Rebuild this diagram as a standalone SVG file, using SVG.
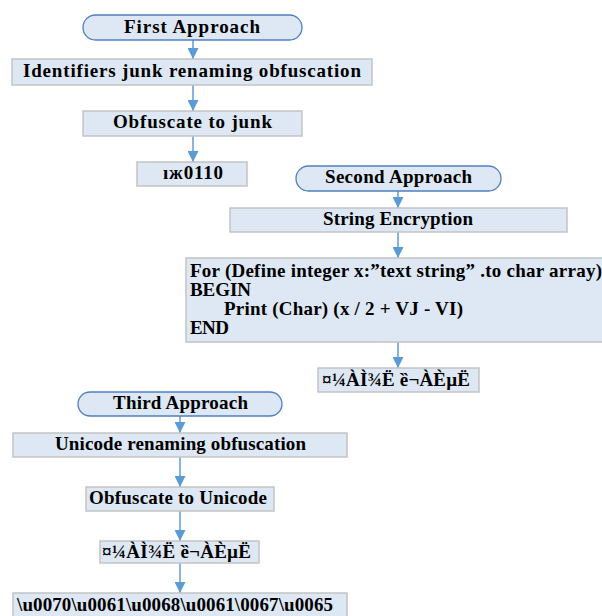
<svg xmlns="http://www.w3.org/2000/svg" width="602" height="616" viewBox="0 0 602 616">
<defs>
<style>
.box{fill:#dee8f4;stroke:#c3c3c3;stroke-width:1.5}
.pill{fill:#dee8f4;stroke:#4f7fbf;stroke-width:1.3}
.t{font-family:"Liberation Serif","Times New Roman",serif;font-weight:bold;font-size:19px;fill:#000}
.con{stroke:#5b9bd5;stroke-width:1.5;fill:none}
</style>
<marker id="ah" viewBox="0 0 10 10" refX="10" refY="5" markerWidth="11" markerHeight="11" markerUnits="userSpaceOnUse" orient="auto">
<path d="M0,0 L10,5 L0,10 z" fill="#5b9bd5"/>
</marker>
</defs>
<rect width="602" height="616" fill="#fff"/>
<g id="connectors">
<line class="con" x1="193" y1="40" x2="193" y2="59" marker-end="url(#ah)"/>
<line class="con" x1="193" y1="85" x2="193" y2="111" marker-end="url(#ah)"/>
<line class="con" x1="193" y1="136" x2="193" y2="162" marker-end="url(#ah)"/>
<line class="con" x1="398" y1="191" x2="398" y2="208" marker-end="url(#ah)"/>
<line class="con" x1="398" y1="232" x2="398" y2="258" marker-end="url(#ah)"/>
<line class="con" x1="398" y1="342" x2="398" y2="368" marker-end="url(#ah)"/>
<line class="con" x1="180" y1="416" x2="180" y2="433" marker-end="url(#ah)"/>
<line class="con" x1="180" y1="457" x2="180" y2="487" marker-end="url(#ah)"/>
<line class="con" x1="180" y1="511" x2="180" y2="541" marker-end="url(#ah)"/>
<line class="con" x1="180" y1="563" x2="180" y2="593" marker-end="url(#ah)"/>
</g>
<g id="first-approach">
<rect class="pill" x="83" y="15" width="219" height="25" rx="12.5"/>
<text class="t" x="124" y="33" textLength="136" lengthAdjust="spacing">First Approach</text>
</g>
<g id="identifiers-junk">
<rect class="box" x="12" y="59" width="360" height="26"/>
<text class="t" x="23" y="77" textLength="338" lengthAdjust="spacing">Identifiers junk renaming obfuscation</text>
</g>
<g id="obfuscate-junk">
<rect class="box" x="83" y="111" width="219" height="25"/>
<text class="t" x="113" y="128" textLength="159" lengthAdjust="spacing">Obfuscate to junk</text>
</g>
<g id="junk-result">
<rect class="box" x="137" y="162" width="110" height="24"/>
<text class="t" x="163" y="179" textLength="60" lengthAdjust="spacing">ıж0110</text>
</g>
<g id="second-approach">
<rect class="pill" x="296" y="166" width="205" height="25" rx="12.5"/>
<text class="t" x="325" y="183" textLength="147" lengthAdjust="spacing">Second Approach</text>
</g>
<g id="string-encryption">
<rect class="box" x="230" y="208" width="337" height="24"/>
<text class="t" x="323" y="225" textLength="150" lengthAdjust="spacing">String Encryption</text>
</g>
<g id="code-box">
<rect class="box" x="186" y="258" width="420" height="84"/>
<text class="t" x="190" y="277" textLength="412" lengthAdjust="spacing">For (Define integer x:”text string” .to char array)</text>
<text class="t" x="190" y="296" textLength="61" lengthAdjust="spacing">BEGIN</text>
<text class="t" x="224" y="315" textLength="239" lengthAdjust="spacing">Print (Char) (x / 2 + VJ - VI)</text>
<text class="t" x="190" y="334" textLength="39" lengthAdjust="spacing">END</text>
</g>
<g id="encrypted-result">
<rect class="box" x="318" y="368" width="161" height="24"/>
<text class="t" x="322" y="386" textLength="148" lengthAdjust="spacing">¤¼ÀÌ¾Ë ȅ¬ÀÈµË</text>
</g>
<g id="third-approach">
<rect class="pill" x="78" y="392" width="204" height="24" rx="12"/>
<text class="t" x="113" y="409" textLength="135" lengthAdjust="spacing">Third Approach</text>
</g>
<g id="unicode-renaming">
<rect class="box" x="13" y="433" width="334" height="24"/>
<text class="t" x="55" y="450" textLength="251" lengthAdjust="spacing">Unicode renaming obfuscation</text>
</g>
<g id="obfuscate-unicode">
<rect class="box" x="86" y="487" width="188" height="24"/>
<text class="t" x="89" y="504" textLength="178" lengthAdjust="spacing">Obfuscate to Unicode</text>
</g>
<g id="unicode-garbled">
<rect class="box" x="100" y="541" width="159" height="22"/>
<text class="t" x="102" y="558" textLength="149" lengthAdjust="spacing">¤¼ÀÌ¾Ë ȅ¬ÀÈµË</text>
</g>
<g id="unicode-escaped">
<rect class="box" x="13" y="593" width="334" height="26"/>
<text class="t" x="17" y="611" textLength="316" lengthAdjust="spacing">\u0070\u0061\u0068\u0061\0067\u0065</text>
</g>
</svg>
